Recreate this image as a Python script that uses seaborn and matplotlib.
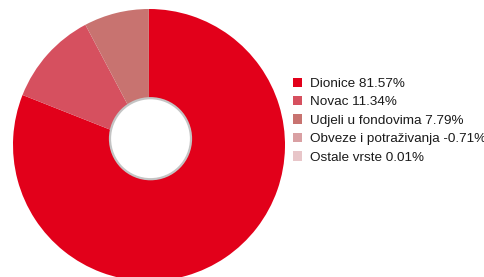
import matplotlib
matplotlib.use("Agg")
import matplotlib.pyplot as plt
import seaborn as sns
from matplotlib.patches import Patch, Circle

categories = ["Dionice", "Novac", "Udjeli u fondovima", "Obveze i potraživanja", "Ostale vrste"]
values = [81.57, 11.34, 7.79, -0.71, 0.01]
colors = ["#e2001a", "#d6505f", "#c87370", "#d9a0a3", "#e8c6c9"]

sns.set_theme(style="white")
plt.rcParams["font.family"] = ["Liberation Sans", "DejaVu Sans"]
plt.rcParams["text.color"] = "#1a1a1a"

W, H = 485, 277
fig = plt.figure(figsize=(W / 100, H / 100), dpi=100)
cx, cy, r = 149, 277 - 145, 136
ax = fig.add_axes([(cx - r) / W, (cy - r) / H, 2 * r / W, 2 * r / H])

sizes = [max(v, 0) for v in values]
ax.pie(sizes, colors=colors, startangle=90, counterclock=False, radius=1,
       wedgeprops=dict(linewidth=0))
ax.set_xlim(-1, 1)
ax.set_ylim(-1, 1)
ax.set_aspect("equal")
ax.axis("off")

hole = Circle((1.5 / r, 6.3 / r), 40.5 / r, facecolor="white", edgecolor="#c4c4c4",
              linewidth=1.6, zorder=5)
ax.add_patch(hole)

fs = 9.7
handles = [Patch(facecolor=c, edgecolor="none") for c in colors]
labels = [f"{n} {v:.2f}%" for n, v in zip(categories, values)]
fig.legend(handles, labels, loc="upper left", bbox_to_anchor=(293.5 / W, 1 - 77.5 / H),
           frameon=False, fontsize=fs, handlelength=9 / (fs * 100 / 72),
           handleheight=9 / (fs * 100 / 72),
           handletextpad=0.55, labelspacing=0.46, borderpad=0, borderaxespad=0)

fig.savefig("out.png", dpi=100)
